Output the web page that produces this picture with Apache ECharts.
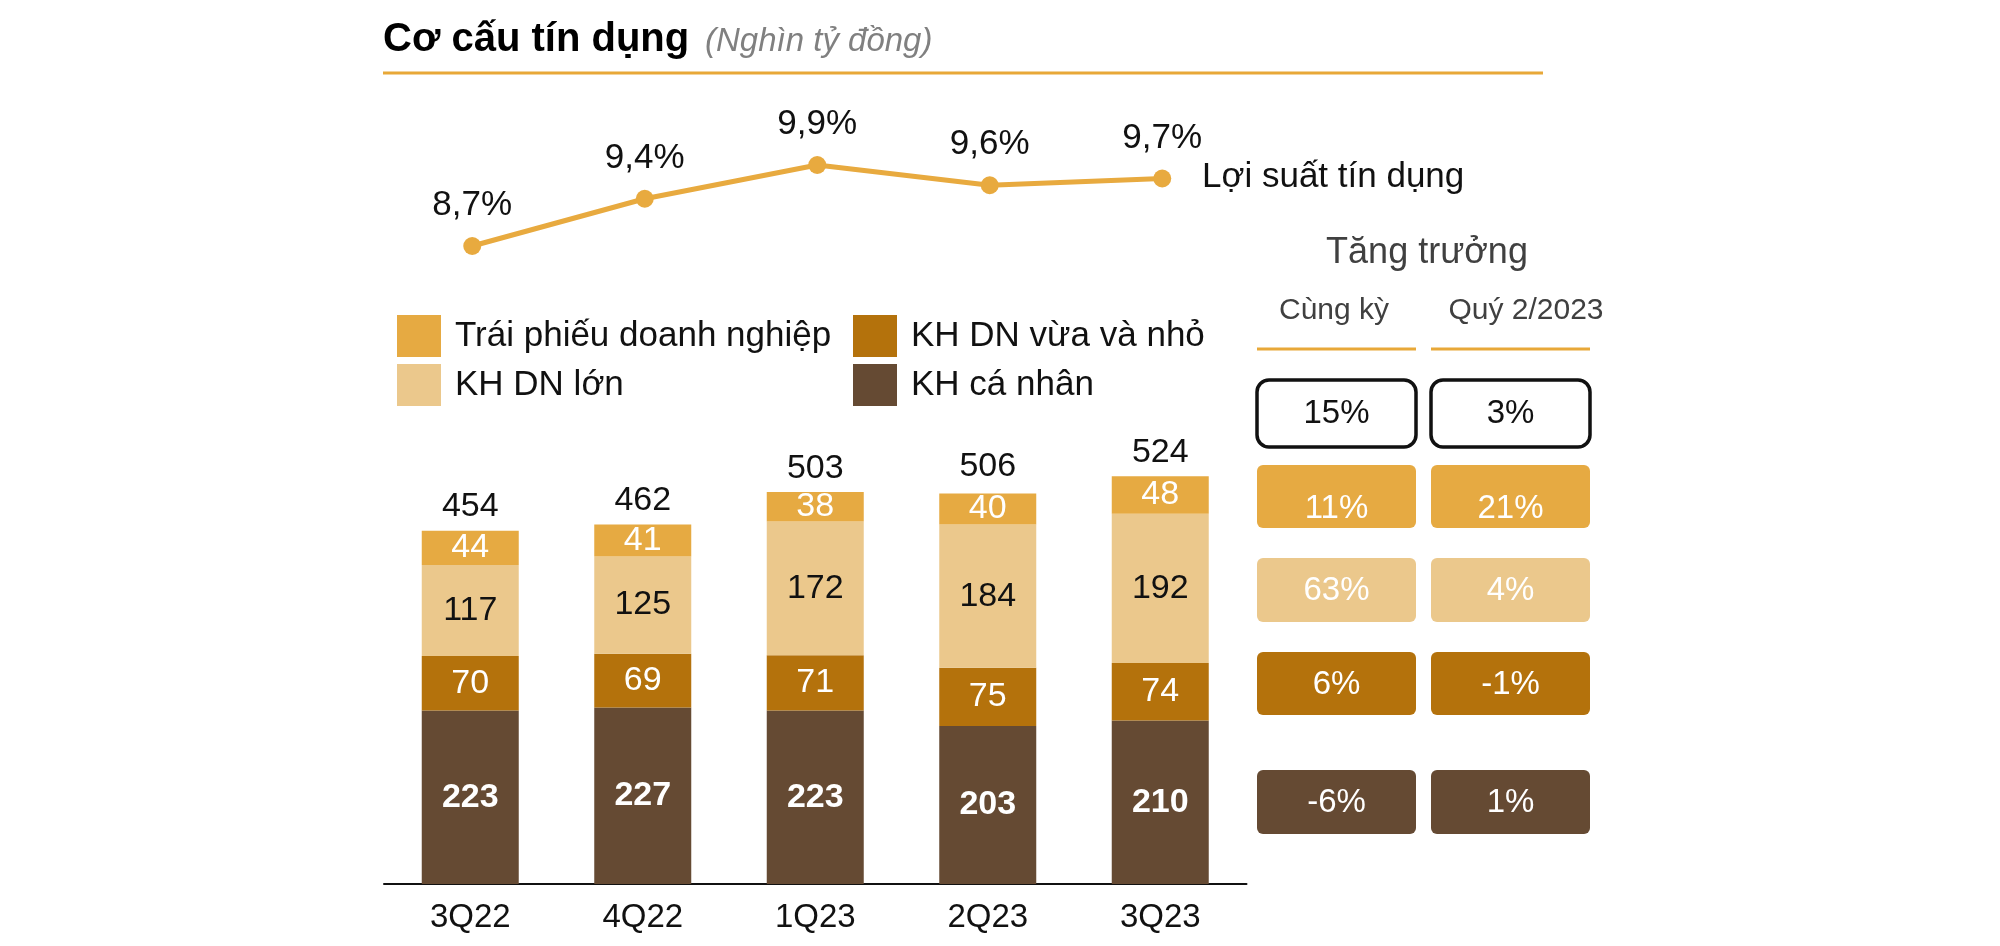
<!DOCTYPE html>
<html><head><meta charset="utf-8">
<script src="https://cdn.jsdelivr.net/npm/echarts/dist/echarts.min.js"></script>
<style>html,body{margin:0;padding:0;background:#fff}#c{width:2000px;height:946px}</style>
</head><body><div id="c"></div>
<script>
// ---- data ----
const categories = ['3Q22', '4Q22', '1Q23', '2Q23', '3Q23'];
const corpBonds = [44, 41, 38, 40, 48];        // Trái phiếu doanh nghiệp
const largeCorp = [117, 125, 172, 184, 192];   // KH DN lớn
const smeCorp = [70, 69, 71, 75, 74];          // KH DN vừa và nhỏ
const retail = [223, 227, 223, 203, 210];      // KH cá nhân
const totals = [454, 462, 503, 506, 524];
const yieldPct = [8.7, 9.4, 9.9, 9.6, 9.7];    // Lợi suất tín dụng
const growthYoY = [15, 11, 63, 6, -6];         // Cùng kỳ: tổng, TP, lớn, vừa&nhỏ, cá nhân
const growthQoQ = [3, 21, 4, -1, 1];           // Quý 2/2023

const C_BOND = '#E6AA42', C_LARGE = '#EBC88C', C_SME = '#B4720C', C_RETAIL = '#654A33';
const FONT = "'Liberation Sans', Arial, Helvetica, sans-serif";

const chart = echarts.init(document.getElementById('c'));

// growth table graphics
const rowBoxes = [[380, 447], [465, 528], [558, 622], [652, 715], [770, 834]];
const textY = [414, 509, 591, 685, 803];
const rowFill = [null, C_BOND, C_LARGE, C_SME, C_RETAIL];
const cols = [{x: 1257, w: 159, vals: growthYoY}, {x: 1431, w: 159, vals: growthQoQ}];
const tableGraphics = [];
cols.forEach(col => {
  rowBoxes.forEach((rb, i) => {
    const first = i === 0;
    tableGraphics.push({
      type: 'rect',
      shape: {x: col.x, y: rb[0], width: col.w, height: rb[1] - rb[0], r: first ? 12 : 6},
      style: first ? {fill: '#fff', stroke: '#111', lineWidth: 3.5} : {fill: rowFill[i]}
    });
    tableGraphics.push({
      type: 'text',
      style: {
        text: col.vals[i] + '%', x: col.x + col.w / 2, y: textY[i],
        align: 'center', verticalAlign: 'middle',
        fontSize: 33, fontFamily: FONT, fill: first ? '#111' : '#fff'
      }
    });
  });
});

const graphics = [
  {type: 'text', style: {text: 'Cơ cấu tín dụng', x: 383, y: 40, verticalAlign: 'middle',
    fontSize: 40, fontWeight: 'bold', fontFamily: FONT, fill: '#000'}},
  {type: 'text', style: {text: '(Nghìn tỷ đồng)', x: 705, y: 42, verticalAlign: 'middle',
    fontSize: 33, fontStyle: 'italic', fontFamily: FONT, fill: '#808080'}},
  {type: 'line', shape: {x1: 383, y1: 73, x2: 1543, y2: 73}, style: {stroke: '#E8A838', lineWidth: 3}},
  {type: 'text', style: {text: 'Lợi suất tín dụng', x: 1202, y: 177, verticalAlign: 'middle',
    fontSize: 35, fontFamily: FONT, fill: '#111'}},
  {type: 'text', style: {text: 'Tăng trưởng', x: 1427, y: 253, align: 'center', verticalAlign: 'middle',
    fontSize: 36, fontFamily: FONT, fill: '#404040'}},
  {type: 'text', style: {text: 'Cùng kỳ', x: 1334, y: 311, align: 'center', verticalAlign: 'middle',
    fontSize: 30, fontFamily: FONT, fill: '#404040'}},
  {type: 'text', style: {text: 'Quý 2/2023', x: 1526, y: 311, align: 'center', verticalAlign: 'middle',
    fontSize: 30, fontFamily: FONT, fill: '#404040'}},
  {type: 'line', shape: {x1: 1257, y1: 349, x2: 1416, y2: 349}, style: {stroke: '#E8A838', lineWidth: 3}},
  {type: 'line', shape: {x1: 1431, y1: 349, x2: 1590, y2: 349}, style: {stroke: '#E8A838', lineWidth: 3}}
].concat(tableGraphics);

function legendAt(name, left, top) {
  return {
    data: [name], left: left, top: top, padding: 0,
    icon: 'rect', itemWidth: 44, itemHeight: 42, selectedMode: false,
    textStyle: {fontSize: 35, fontFamily: FONT, color: '#111', padding: [0, 0, 0, 9]}
  };
}

const segLabel = (color, bold) => ({
  show: true, position: 'inside', fontSize: 34, fontFamily: FONT,
  color: color, fontWeight: bold ? 'bold' : 'normal'
});

chart.setOption({
  backgroundColor: '#fff',
  animation: false,
  textStyle: {fontFamily: FONT},
  graphic: graphics,
  legend: [
    legendAt('Trái phiếu doanh nghiệp', 397, 315),
    legendAt('KH DN vừa và nhỏ', 853, 315),
    legendAt('KH DN lớn', 397, 364),
    legendAt('KH cá nhân', 853, 364)
  ],
  grid: [
    {left: 386, width: 862.5, top: 124.5, height: 168.75},
    {left: 384, width: 862.5, top: 417.2, height: 466.8}
  ],
  xAxis: [
    {type: 'category', gridIndex: 0, data: categories, show: false},
    {type: 'category', gridIndex: 1, data: categories,
      axisLine: {lineStyle: {color: '#111', width: 2}}, axisTick: {show: false},
      axisLabel: {fontSize: 33, color: '#111', margin: 17, fontFamily: FONT}}
  ],
  yAxis: [
    {type: 'value', gridIndex: 0, min: 8, max: 10.5, show: false},
    {type: 'value', gridIndex: 1, min: 0, max: 600, show: false}
  ],
  series: [
    {name: 'Lợi suất tín dụng', type: 'line', xAxisIndex: 0, yAxisIndex: 0, data: yieldPct,
      symbol: 'circle', symbolSize: 18, itemStyle: {color: '#E8AA3F'},
      lineStyle: {color: '#E8AA3F', width: 5},
      label: {show: true, position: 'top', distance: 14, fontSize: 35, color: '#111', fontFamily: FONT,
        formatter: p => p.value.toFixed(1).replace('.', ',') + '%'}},
    {name: 'KH cá nhân', type: 'bar', stack: 'credit', xAxisIndex: 1, yAxisIndex: 1, data: retail,
      barWidth: 97, itemStyle: {color: C_RETAIL}, label: segLabel('#fff', true)},
    {name: 'KH DN vừa và nhỏ', type: 'bar', stack: 'credit', xAxisIndex: 1, yAxisIndex: 1, data: smeCorp,
      barWidth: 97, itemStyle: {color: C_SME}, label: segLabel('#fff', false)},
    {name: 'KH DN lớn', type: 'bar', stack: 'credit', xAxisIndex: 1, yAxisIndex: 1, data: largeCorp,
      barWidth: 97, itemStyle: {color: C_LARGE}, label: segLabel('#111', false)},
    {name: 'Trái phiếu doanh nghiệp', type: 'bar', stack: 'credit', xAxisIndex: 1, yAxisIndex: 1, data: corpBonds,
      barWidth: 97, itemStyle: {color: C_BOND}, label: segLabel('#fff', false)},
    {name: 'Tổng', type: 'bar', xAxisIndex: 1, yAxisIndex: 1, data: totals, barWidth: 97, barGap: '-100%',
      itemStyle: {color: 'rgba(0,0,0,0)'}, z: 1,
      label: {show: true, position: 'top', distance: 7, fontSize: 34, color: '#111', fontFamily: FONT}}
  ]
});
</script>
</body></html>
